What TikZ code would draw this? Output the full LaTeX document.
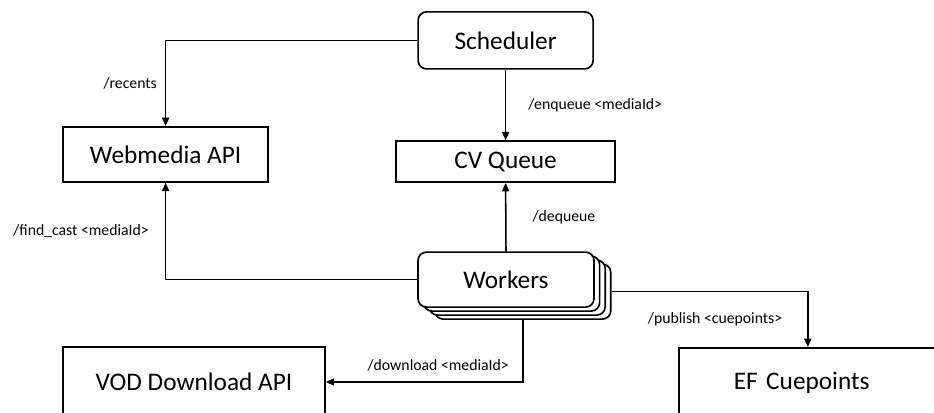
\documentclass[tikz,border=0pt]{standalone}
\usepackage{fontspec}
\setmainfont{Carlito}
\usetikzlibrary{arrows.meta}

\tikzset{
  box/.style={draw, line width=1.2pt, fill=white, inner sep=0pt,
    font=\fontsize{18}{21}\selectfont},
  rbox/.style={box, rounded corners=6pt},
  lbl/.style={font=\fontsize{11.2}{13}\selectfont, inner sep=2pt},
}

\begin{document}
\begin{tikzpicture}[>={Triangle[length=2.1mm,width=1.8mm]}, line width=1.1pt]
 \clip (0,0) rectangle (23.35,10.3);

 \node[rbox, minimum width=4.375cm, minimum height=1.425cm] (sched) at (12.64,9.29) {Scheduler};
 \node[box, minimum width=5.125cm, minimum height=1.375cm] (web) at (4.14,6.44) {Webmedia API};
 \node[box, minimum width=5.475cm, minimum height=1.025cm] (cv) at (12.64,6.26) {CV Queue};

 % stack of workers, back to front
 \foreach \i in {3,2,1}
  \node[rbox, minimum width=4.4cm, minimum height=1.375cm] (w\i) at (12.65+0.14*\i,3.31-0.1*\i) {};
 \node[rbox, minimum width=4.4cm, minimum height=1.375cm] (workers) at (12.65,3.31) {Workers};

 \node[box, minimum width=6.55cm, minimum height=1.75cm] (vod) at (4.85,0.75) {VOD Download API};
 \node[box, anchor=north west, text width=3.7cm, align=left, inner xsep=1.375cm,
   minimum height=1.75cm] (ef) at (16.95,1.625) {EF Cuepoints};

 \draw[->] (sched.west) -| (web.north) node[lbl, pos=0.75, left=0.13cm] {/recents};
 \draw[->] (sched.south) -- (cv.north) node[lbl, midway, right=0.48cm] {/enqueue <mediaId>};
 \draw[->] (workers.north) -- (cv.south) node[lbl, midway, right=0.58cm] {/dequeue};
 \draw[->] (workers.west) -| (web.south) node[lbl, pos=0.75, left=0.33cm] {/find\_cast <mediaId>};
 \draw[->] (w3.south) |- (vod.east)
   node[lbl, pos=0.5, anchor=south east, xshift=-0.26cm, yshift=0.18cm] {/download <mediaId>};
 \draw[->] (w3.east) -| (ef.north) node[lbl, pos=0.75, left=0.55cm] {/publish <cuepoints>};
\end{tikzpicture}
\end{document}
